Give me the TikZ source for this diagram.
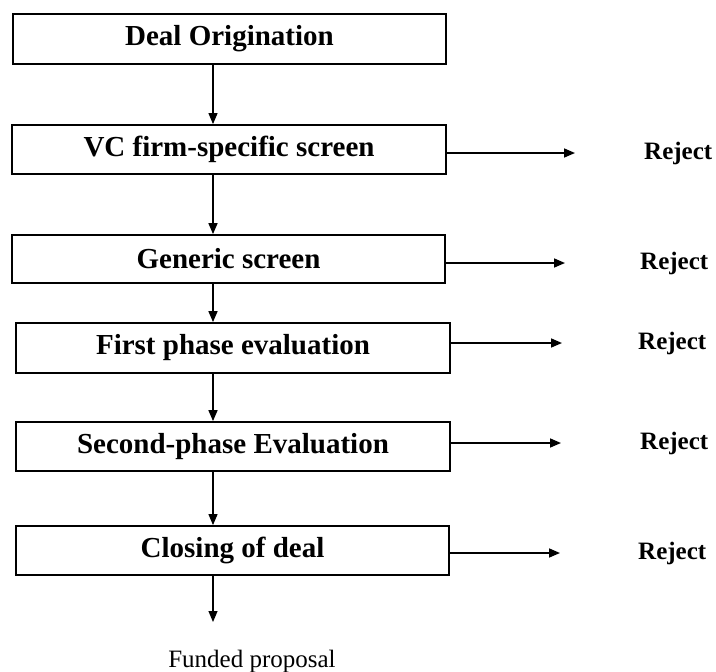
\documentclass[tikz,border=0pt]{standalone}
\usepackage{fontspec}
\setmainfont{Liberation Serif}
\usetikzlibrary{arrows.meta}
\begin{document}
\begin{tikzpicture}[x=1pt,y=-1pt,
  stage/.style={draw,line width=1.8pt,inner sep=0pt,font=\fontsize{29}{32}\selectfont\bfseries},
  flow/.style={line width=1.6pt,-{Triangle[length=11pt,width=9pt]}},
  rej/.style={anchor=west,inner sep=0pt,font=\fontsize{25}{28}\selectfont\bfseries},
  outtext/.style={font=\fontsize{25}{28}\selectfont}]
\useasboundingbox (0,0) rectangle (716,672);
\coordinate (ax) at (213,0);
\node[stage,minimum width=433pt,minimum height=50pt] (b1) at (229.5,39) {Deal Origination};
\node[stage,minimum width=434pt,minimum height=49pt] (b2) at (229,149.5) {VC firm-specific screen};
\node[stage,minimum width=433pt,minimum height=48pt] (b3) at (228.5,259) {Generic screen};
\node[stage,minimum width=434pt,minimum height=50pt] (b4) at (233,348) {First phase evaluation};
\node[stage,minimum width=434pt,minimum height=49pt] (b5) at (233,446.5) {Second-phase Evaluation};
\node[stage,minimum width=433pt,minimum height=49pt] (b6) at (232.5,550.5) {Closing of deal};
\coordinate (fend) at (213,622);
\node[outtext] (fp) at (252,661) {Funded proposal};
\node[rej] (r2) at (644,153) {Reject};
\node[rej] (r3) at (640,263) {Reject};
\node[rej] (r4) at (638,343) {Reject};
\node[rej] (r5) at (640,443) {Reject};
\node[rej] (r6) at (638,553) {Reject};
\coordinate (e2) at (575,153);
\coordinate (e3) at (565,263);
\coordinate (e4) at (562,343);
\coordinate (e5) at (561,443);
\coordinate (e6) at (560,553);
\draw[flow,line width=1.2pt] (b1.south -| ax) -- (b2.north -| ax);
\draw[flow] (b2.south -| ax) -- (b3.north -| ax);
\draw[flow] (b3.south -| ax) -- (b4.north -| ax);
\draw[flow] (b4.south -| ax) -- (b5.north -| ax);
\draw[flow,line width=1.2pt] (b5.south -| ax) -- (b6.north -| ax);
\draw[flow,line width=1.2pt] (b6.south -| ax) -- (fend);
\draw[flow] (e2 -| b2.east) -- (e2);
\draw[flow] (e3 -| b3.east) -- (e3);
\draw[flow] (e4 -| b4.east) -- (e4);
\draw[flow] (e5 -| b5.east) -- (e5);
\draw[flow] (e6 -| b6.east) -- (e6);
\end{tikzpicture}
\end{document}
